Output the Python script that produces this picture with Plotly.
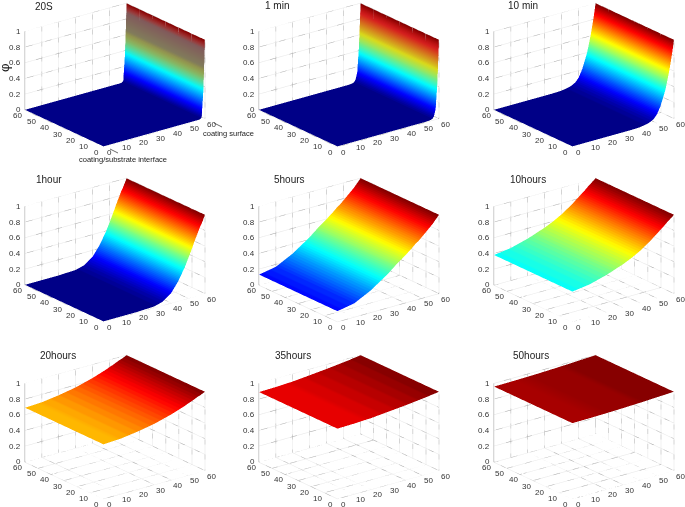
import plotly.graph_objects as go

W, H = 685, 507
depth = [0, 10, 20, 30, 35, 40, 44, 46, 48, 50, 52, 54, 55, 56, 57, 58, 59, 60]
width_axis = [0, 60]
xy_ticks = [0, 10, 20, 30, 40, 50, 60]
z_ticks = [0, 0.2, 0.4, 0.6, 0.8, 1]
z_labels = ["0", "0.2", "0.4", "0.6", "0.8", "1"]

titles = ["20S", "1 min", "10 min", "1hour", "5hours", "10hours", "20hours", "35hours", "50hours"]
phi_20s = [0, 0, 0, 0, 0, 0, 0, 0, 0, 0, 0, 0, 0, 0, 0.002, 0.02, 0.35, 1]
phi_1min = [0, 0, 0, 0, 0, 0, 0, 0, 0, 0, 0, 0.002, 0.005, 0.012, 0.04, 0.13, 0.45, 1]
phi_10min = [0, 0, 0, 0, 0, 0.005, 0.02, 0.035, 0.06, 0.11, 0.2, 0.33, 0.4, 0.5, 0.6, 0.72, 0.85, 1]
phi_1hour = [0, 0, 0, 0.01, 0.04, 0.12, 0.24, 0.32, 0.4, 0.5, 0.6, 0.71, 0.76, 0.81, 0.86, 0.9, 0.95, 1]
phi_5hours = [0.13, 0.17, 0.28, 0.43, 0.52, 0.6, 0.67, 0.71, 0.74, 0.78, 0.82, 0.86, 0.88, 0.9, 0.925, 0.95, 0.975, 1]
phi_10hours = [0.38, 0.41, 0.47, 0.55, 0.6, 0.66, 0.72, 0.75, 0.785, 0.82, 0.855, 0.89, 0.91, 0.93, 0.945, 0.965, 0.98, 1]
phi_20hours = [0.69, 0.7, 0.73, 0.77, 0.8, 0.83, 0.86, 0.875, 0.89, 0.91, 0.925, 0.945, 0.955, 0.965, 0.97, 0.98, 0.99, 1]
phi_35hours = [0.89, 0.895, 0.905, 0.925, 0.935, 0.945, 0.955, 0.96, 0.965, 0.97, 0.975, 0.98, 0.985, 0.988, 0.99, 0.993, 0.997, 1]
phi_50hours = [0.96, 0.962, 0.966, 0.972, 0.976, 0.98, 0.984, 0.986, 0.988, 0.99, 0.992, 0.994, 0.995, 0.996, 0.997, 0.998, 0.999, 1]
profiles = [phi_20s, phi_1min, phi_10min, phi_1hour, phi_5hours, phi_10hours, phi_20hours, phi_35hours, phi_50hours]

# pixel centres of the projected axis boxes
col_x = [115, 349, 584]
row_y = [75, 250, 427]
col_box = [(0, 230), (232, 462), (455, 685)]
row_box = [(0, 168), (170, 338), (339, 507)]

# how far the colormap washes towards grey in the steep, aliased panels
mute = [0.85, 0.28, 0, 0, 0, 0, 0, 0, 0]

view_dir = (-0.569, -0.737, 0.36)
view_r = 2.0
px = 1 / 84
floor_z = -0.006


def jet(t):
    def ch(c):
        return max(0.0, min(1.0, 1.5 - abs(4 * t - c)))
    return ch(3), ch(2), ch(1)


def scale(m):
    out = []
    n = 64
    for i in range(n):
        t = (i + 0.5) / n
        r, g, b = jet(t)
        k = m * min(1.0, max(0.0, (t - 0.36) / 0.3))
        if t > 0.88:
            k *= max(0.0, (1 - t) / 0.12)
        r, g, b = [c * (1 - k) + 0.42 * k for c in (r, g, b)]
        col = f"rgb({int(r*255)},{int(g*255)},{int(b*255)})"
        out += [[i / n, col], [(i + 1) / n, col]]
    return out


def walls():
    xs, ys, zs = [], [], []
    def seg(a, b):
        xs.extend([a[0], b[0], None]); ys.extend([a[1], b[1], None]); zs.extend([a[2], b[2], None])
    top, far, low = z_ticks[-1], xy_ticks[-1], xy_ticks[0]
    for t in xy_ticks:
        seg((t, far, floor_z), (t, far, top))
        seg((far, t, floor_z), (far, t, top))
        seg((t, low, floor_z), (t, far, floor_z))
        seg((low, t, floor_z), (far, t, floor_z))
    for z in z_ticks[1:]:
        seg((low, far, z), (far, far, z))
        seg((far, low, z), (far, far, z))
    return xs, ys, zs


def tick_notes():
    font = dict(family="Liberation Sans", size=8, color="#333333")
    out = []
    far, low = xy_ticks[-1], xy_ticks[0]
    for t in xy_ticks:
        out.append(dict(x=t, y=low, z=0, text=str(t), showarrow=False, xshift=6, yshift=-6, font=font))
        out.append(dict(x=low, y=t, z=0, text=str(t), showarrow=False, xshift=-7, yshift=-6, font=font))
    for v, s in zip(z_ticks, z_labels):
        out.append(dict(x=low, y=far, z=v, text=s, showarrow=False, xanchor="right", xshift=-2, yshift=0, font=font))
    return out


fig = go.Figure()
gx, gy, gz = walls()
layout = {}
annotations = []
for i, (name, phi) in enumerate(zip(titles, profiles)):
    sid = "scene" if i == 0 else f"scene{i+1}"
    col, row = i % 3, i // 3
    x0, x1 = col_box[col]
    y0, y1 = row_box[row]
    sx = col_x[col] - (x0 + x1) / 2
    sy = (y0 + y1) / 2 - row_y[row]
    c = dict(x=-sx * px * 0.79, y=sx * px * 0.61, z=-sy * px / 0.933)
    eye = dict(x=c["x"] + view_dir[0] * view_r, y=c["y"] + view_dir[1] * view_r, z=c["z"] + view_dir[2] * view_r)
    fig.add_trace(go.Scatter3d(x=gx, y=gy, z=gz, mode="lines", scene=sid, showlegend=False, hoverinfo="skip",
                               line=dict(color="#e6e6e6", width=1)))
    fig.add_trace(go.Scatter3d(x=gx, y=gy, z=gz, mode="lines", scene=sid, showlegend=False, hoverinfo="skip",
                               line=dict(color="#a8a8a8", width=1, dash="dot")))
    fig.add_trace(go.Surface(x=depth, y=width_axis, z=[phi, phi], scene=sid, cmin=0, cmax=1,
                             colorscale=scale(mute[i]), showscale=False, hoverinfo="skip",
                             lighting=dict(ambient=1, diffuse=0, specular=0, fresnel=0, roughness=1)))
    axis = dict(showgrid=False, showbackground=False, zeroline=False, showspikes=False, title="",
                ticks="", showticklabels=False, showline=False)
    layout[sid] = dict(
        domain=dict(x=[x0 / W, x1 / W], y=[1 - y1 / H, 1 - y0 / H]),
        xaxis=dict(axis, range=[0, 60]),
        yaxis=dict(axis, range=[0, 60]),
        zaxis=dict(axis, range=[floor_z, 1], showline=True, linecolor="#999999", linewidth=1),
        aspectmode="manual", aspectratio=dict(x=1.529, y=1.529, z=1.006),
        camera=dict(projection=dict(type="orthographic"), up=dict(x=0, y=0, z=1), center=c, eye=eye),
        annotations=tick_notes(),
    )

title_pos = [(44, 7), (277, 5), (523, 5), (49, 179), (289, 179), (528, 179), (58, 355), (293, 355), (531, 355)]


def note(text, x, y, size=10, angle=0):
    annotations.append(dict(text=text, x=x / W, y=1 - y / H, xref="paper", yref="paper", showarrow=False,
                            xanchor="center", yanchor="middle", textangle=angle,
                            font=dict(family="Liberation Sans", size=size, color="#222222")))


for name, (x, y) in zip(titles, title_pos):
    note(name, x, y)
note("coating surface", 228, 133, size=7.5)
note("coating/substrate interface", 123, 159, size=7.5)
note("φ", 4, 68, size=13, angle=-90)

shapes = [dict(type="line", x0=214 / W, x1=222 / W, y0=1 - 123 / H, y1=1 - 127 / H, xref="paper", yref="paper",
               line=dict(color="#444444", width=0.8)),
          dict(type="line", x0=110 / W, x1=118 / W, y0=1 - 149 / H, y1=1 - 153 / H, xref="paper", yref="paper",
               line=dict(color="#444444", width=0.8))]

fig.update_layout(width=W, height=H, margin=dict(l=0, r=0, t=0, b=0), paper_bgcolor="white", showlegend=False,
                  annotations=annotations, shapes=shapes, **layout)
fig.write_html("out.html", config=dict(displayModeBar=False), post_script="document.body.style.margin='0';")
